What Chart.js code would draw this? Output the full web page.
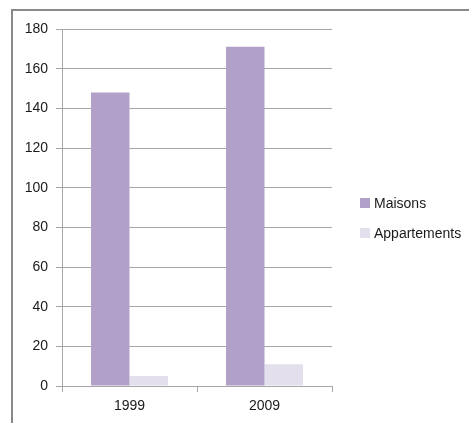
<!DOCTYPE html>
<html>
<head>
<meta charset="utf-8">
<script src="https://cdn.jsdelivr.net/npm/chart.js@4"></script>
<style>
  html, body { margin: 0; padding: 0; background: #fff; }
  #wrap { position: relative; width: 469px; height: 423px; overflow: hidden; }
  #frame {
    position: absolute; left: 11px; top: 9px; width: 480px; height: 430px;
    border-left: 2px solid #8a8a8a; border-top: 2px solid #8a8a8a;
  }
  #chart-logements { position: absolute; left: 0; top: 0; }
  #legend-logements ul { list-style: none; margin: 0; padding: 0; }
  #legend-logements {
    position: absolute; left: 360px; top: 188px;
    font-family: "Liberation Sans", Arial, sans-serif; font-size: 14px; color: #1a1a1a;
  }
  #legend-logements li { display: flex; align-items: center; height: 30px; margin: 0; }
  #legend-logements li span { display: inline-block; width: 10px; height: 10px; margin-right: 4px; }
  #legend-logements li p { margin: 0; }
</style>
</head>
<body>
<div id="wrap">
  <div id="frame"></div>
  <canvas id="chart-logements" width="469" height="423"></canvas>
  <div id="legend-logements"></div>
</div>
<script>
const ctxLogements = document.getElementById("chart-logements").getContext("2d");
const years = ["1999", "2009"];
const dataMaisons = [148, 171];
const dataAppartements = [5, 11];
const seriesLabels = ["Maisons", "Appartements"];
const backgrounds = ["#B1A0C7", "#E4DFEC"];

const gridColor = "#a6a6a6";
const tickFont = { family: "'Liberation Sans', Arial, sans-serif", size: 14 };

// html legend, same look as the original spreadsheet chart
const htmlLegend = {
  id: "htmlLegend",
  afterUpdate: function (chart) {
    const box = document.getElementById("legend-logements");
    box.innerHTML = "";
    const ul = document.createElement("ul");
    chart.data.datasets.forEach((ds) => {
      ul.innerHTML += `
        <li>
          <span style="background-color: ${ds.backgroundColor}"></span>
          <p>${ds.label}</p>
        </li>
      `;
    });
    box.appendChild(ul);
  },
};

const chartLogements = new Chart(ctxLogements, {
  type: "bar",
  data: {
    labels: years,
    datasets: [
      {
        label: seriesLabels[0],
        data: dataMaisons,
        backgroundColor: backgrounds[0],
        barPercentage: 1,
        categoryPercentage: 0.57,
      },
      {
        label: seriesLabels[1],
        data: dataAppartements,
        backgroundColor: backgrounds[1],
        barPercentage: 1,
        categoryPercentage: 0.57,
      },
    ],
  },
  options: {
    responsive: false,
    animation: false,
    layout: {
      padding: { top: 29, right: 137, bottom: 0, left: 0 },
    },
    plugins: {
      legend: { display: false },
      tooltip: { enabled: false },
    },
    scales: {
      x: {
        grid: {
          offset: true,
          drawOnChartArea: false,
          drawTicks: true,
          tickLength: 6,
          color: gridColor,
        },
        border: { color: gridColor },
        ticks: { font: tickFont, color: "#1a1a1a", padding: 6 },
        afterFit: function (scale) {
          scale.height = 37;
        },
      },
      y: {
        min: 0,
        max: 180,
        ticks: { stepSize: 20, font: tickFont, color: "#1a1a1a", padding: 8 },
        grid: { color: gridColor, tickLength: 6 },
        border: { color: gridColor },
        afterFit: function (scale) {
          scale.width = 62;
        },
      },
    },
  },
  plugins: [htmlLegend],
});
</script>
</body>
</html>
